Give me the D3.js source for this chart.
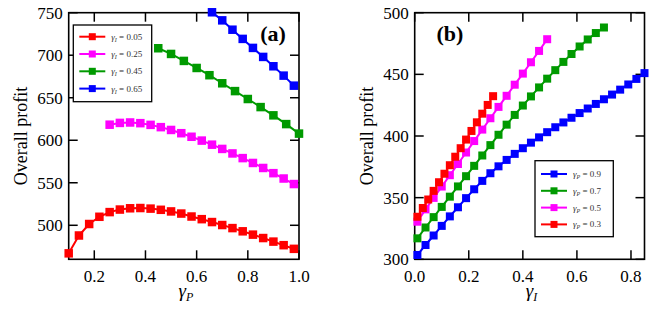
<!DOCTYPE html>
<html>
<head>
<meta charset="utf-8">
<script src="https://cdn.jsdelivr.net/npm/d3@7"></script>
<style>
  body { margin: 0; background: #fff; }
  svg { display: block; }
</style>
</head>
<body>
<div id="chart"></div>
<script>
// ---- panel (a): overall profit vs gamma_P ----
const aRedX = [0.10, 0.14, 0.18, 0.22, 0.26, 0.30, 0.34, 0.38, 0.42, 0.46, 0.50, 0.54, 0.58, 0.62, 0.66, 0.70, 0.74, 0.78, 0.82, 0.86, 0.90, 0.94, 0.98];
const aRedY = [467, 488, 501.5, 510, 515.5, 518.5, 520, 520.3, 519.6, 518.2, 516.3, 513.8, 510.3, 507.2, 503.8, 500.3, 496.7, 492.9, 489, 485, 480.8, 476.6, 472.3];
const aMagX = [0.26, 0.30, 0.34, 0.38, 0.42, 0.46, 0.50, 0.54, 0.58, 0.62, 0.66, 0.70, 0.74, 0.78, 0.82, 0.86, 0.90, 0.94, 0.98];
const aMagY = [618.3, 620.4, 620.9, 620.1, 618.1, 615.4, 612.1, 608.3, 604.1, 599.6, 594.8, 589.8, 584.5, 579.0, 573.3, 567.4, 561.3, 555.0, 548.5];
const aGreenX = [0.45, 0.50, 0.55, 0.60, 0.65, 0.70, 0.75, 0.80, 0.85, 0.90, 0.95, 1.00];
const aGreenY = [708.2, 701.5, 693.3, 685, 676.5, 667, 657.8, 648.5, 639, 629.3, 619, 607.8];
const aBlueX = [0.66, 0.70, 0.74, 0.78, 0.82, 0.86, 0.90, 0.94, 0.98];
const aBlueY = [750.5, 741, 730, 719.2, 708.6, 698, 687, 676, 664.2];
const aXTicks = [0.2, 0.4, 0.6, 0.8, 1.0];
const aYTicks = [500, 550, 600, 650, 700, 750];
const aLegend = ["0.05", "0.25", "0.45", "0.65"];

// ---- panel (b): overall profit vs gamma_I ----
const bBlueX = [0.01, 0.04, 0.07, 0.10, 0.13, 0.16, 0.19, 0.22, 0.25, 0.28, 0.31, 0.34, 0.37, 0.40, 0.43, 0.46, 0.49, 0.52, 0.55, 0.58, 0.61, 0.64, 0.67, 0.70, 0.73, 0.76, 0.79, 0.82, 0.85];
const bBlueY = [303.5, 311.6, 319.3, 327.1, 334.8, 342.2, 349.6, 356.8, 363.6, 369.8, 375.4, 380.6, 385.5, 390.1, 394.6, 398.9, 403.1, 407.1, 411, 414.8, 418.6, 422.3, 426, 429.8, 433.6, 437.6, 441.8, 446.3, 451];
const bGreenX = [0.01, 0.04, 0.07, 0.10, 0.13, 0.16, 0.19, 0.22, 0.25, 0.28, 0.31, 0.34, 0.37, 0.40, 0.43, 0.46, 0.49, 0.52, 0.55, 0.58, 0.61, 0.64, 0.67, 0.70];
const bGreenY = [317, 325.8, 334.2, 342.5, 350.8, 359.1, 367.4, 375.8, 384.2, 392.6, 401, 409.2, 417.1, 424.7, 432.1, 439.4, 446.5, 453.4, 460.1, 466.5, 472.6, 478.3, 483.5, 488];
const bMagX = [0.01, 0.04, 0.07, 0.10, 0.13, 0.16, 0.19, 0.22, 0.25, 0.28, 0.31, 0.34, 0.37, 0.40, 0.43, 0.46, 0.49];
const bMagY = [330.5, 340.5, 349.8, 359, 368.2, 377.3, 386.6, 395.9, 405.2, 414.4, 423.6, 432.6, 441.6, 450.6, 459.8, 469, 478.5];
const bRedX = [0.01, 0.03, 0.05, 0.07, 0.09, 0.11, 0.13, 0.15, 0.17, 0.19, 0.21, 0.23, 0.25, 0.27, 0.29];
const bRedY = [334.5, 341.6, 348.5, 355.5, 362.5, 369.4, 376.3, 383.2, 390.1, 397.1, 404.1, 411.1, 418.1, 425.2, 432.3];
const bXTicks = [0.0, 0.2, 0.4, 0.6, 0.8];
const bYTicks = [300, 350, 400, 450, 500];
const bLegend = ["0.9", "0.7", "0.5", "0.3"];

const RED = "#ff0000", MAG = "#ff00ff", GREEN = "#009a00", BLUE = "#0000ff";
const SERIF = "'Liberation Serif', serif";

const svg = d3.select("#chart").append("svg")
  .attr("width", 664)
  .attr("height", 314);

function drawPanel(p) {
  const x = d3.scaleLinear().domain(p.xDomain).range([p.left, p.right]);
  const y = d3.scaleLinear().domain(p.yDomain).range([p.bottom, p.top]);
  const g = svg.append("g");
  const TICK = 9;

  // ticks inward on all four sides
  p.xTicks.forEach(t => {
    g.append("line").attr("x1", x(t)).attr("x2", x(t)).attr("y1", p.bottom).attr("y2", p.bottom - TICK)
      .attr("stroke", "#000").attr("stroke-width", 1.5);
    g.append("line").attr("x1", x(t)).attr("x2", x(t)).attr("y1", p.top).attr("y2", p.top + TICK)
      .attr("stroke", "#000").attr("stroke-width", 1.5);
    g.append("text").attr("x", x(t)).attr("y", p.bottom + 23)
      .attr("text-anchor", "middle")
      .style("font-family", SERIF).style("font-size", "17px")
      .text(d3.format(".1f")(t));
  });
  p.yTicks.forEach(t => {
    g.append("line").attr("x1", p.left).attr("x2", p.left + TICK).attr("y1", y(t)).attr("y2", y(t))
      .attr("stroke", "#000").attr("stroke-width", 1.5);
    g.append("line").attr("x1", p.right).attr("x2", p.right - TICK).attr("y1", y(t)).attr("y2", y(t))
      .attr("stroke", "#000").attr("stroke-width", 1.5);
    g.append("text").attr("x", p.left - 6).attr("y", y(t) + 6)
      .attr("text-anchor", "end")
      .style("font-family", SERIF).style("font-size", "17px")
      .text(t);
  });

  // frame
  g.append("rect")
    .attr("x", p.left).attr("y", p.top)
    .attr("width", p.right - p.left).attr("height", p.bottom - p.top)
    .attr("fill", "none").attr("stroke", "#000").attr("stroke-width", 1.6);

  // series
  const line = d3.line().x(d => x(d[0])).y(d => y(d[1]));
  p.series.forEach(s => {
    const pts = s.xs.map((v, i) => [v, s.ys[i]]);
    g.append("path").datum(pts)
      .attr("d", line).attr("fill", "none")
      .attr("stroke", s.color).attr("stroke-width", 2);
    g.selectAll(null).data(pts).enter().append("rect")
      .attr("x", d => x(d[0]) - p.marker / 2)
      .attr("y", d => y(d[1]) - p.marker / 2)
      .attr("width", p.marker).attr("height", p.marker)
      .attr("fill", s.color);
  });

  // axis titles
  g.append("text")
    .attr("transform", `translate(${p.left - 42},${(p.top + p.bottom) / 2}) rotate(-90)`)
    .attr("text-anchor", "middle")
    .style("font-family", SERIF).style("font-size", "18px")
    .text("Overall profit");

  const xl = g.append("text")
    .attr("x", (p.left + p.right) / 2 + 2).attr("y", p.bottom + 38)
    .attr("text-anchor", "middle")
    .style("font-family", SERIF).style("font-size", "19px").style("font-style", "italic");
  xl.append("tspan").text("γ");
  xl.append("tspan").attr("dy", 4).style("font-size", "12px").text(p.xSub);

  // panel tag
  g.append("text")
    .attr("x", p.tagX).attr("y", 41)
    .attr("text-anchor", "middle")
    .style("font-family", SERIF).style("font-size", "22px").style("font-weight", "bold")
    .text(p.tag);

  // legend
  const L = p.legend;
  g.append("rect")
    .attr("x", L.x).attr("y", L.y).attr("width", L.w).attr("height", L.h)
    .attr("fill", "#fff").attr("stroke", "#000").attr("stroke-width", 1.3);
  L.items.forEach((it, i) => {
    const cy = L.y + L.first + i * L.step;
    g.append("line")
      .attr("x1", L.x + 6).attr("x2", L.x + 32).attr("y1", cy).attr("y2", cy)
      .attr("stroke", it.color).attr("stroke-width", 2);
    g.append("rect")
      .attr("x", L.x + 19 - 3.5).attr("y", cy - 3.5).attr("width", 7).attr("height", 7)
      .attr("fill", it.color);
    const t = g.append("text")
      .attr("x", L.x + 38).attr("y", cy + 3)
      .style("font-family", SERIF).style("font-size", "9px").attr("fill", "#333");
    t.append("tspan").style("font-style", "italic").text("γ");
    t.append("tspan").attr("dy", 2).style("font-size", "6px").style("font-style", "italic").text(L.sub);
    t.append("tspan").attr("dy", -2).text(" = " + it.label);
  });
}

drawPanel({
  left: 68.7, right: 299, top: 12.7, bottom: 259.3,
  xDomain: [0.1, 1.0], yDomain: [460, 750],
  xTicks: aXTicks, yTicks: aYTicks,
  xSub: "P", tag: "(a)", tagX: 273, marker: 8.5,
  series: [
    { xs: aRedX, ys: aRedY, color: RED },
    { xs: aMagX, ys: aMagY, color: MAG },
    { xs: aGreenX, ys: aGreenY, color: GREEN },
    { xs: aBlueX, ys: aBlueY, color: BLUE }
  ],
  legend: {
    x: 73.3, y: 25, w: 78.4, h: 76.7, first: 11.7, step: 17.3, sub: "I",
    items: [
      { label: aLegend[0], color: RED },
      { label: aLegend[1], color: MAG },
      { label: aLegend[2], color: GREEN },
      { label: aLegend[3], color: BLUE }
    ]
  }
});

drawPanel({
  left: 414.7, right: 644.5, top: 12.7, bottom: 259.3,
  xDomain: [0, 0.85], yDomain: [300, 500],
  xTicks: bXTicks, yTicks: bYTicks,
  xSub: "I", tag: "(b)", tagX: 450, marker: 8,
  series: [
    { xs: bBlueX, ys: bBlueY, color: BLUE },
    { xs: bGreenX, ys: bGreenY, color: GREEN },
    { xs: bMagX, ys: bMagY, color: MAG },
    { xs: bRedX, ys: bRedY, color: RED }
  ],
  legend: {
    x: 535, y: 160.7, w: 78.3, h: 76, first: 13.3, step: 16.8, sub: "P",
    items: [
      { label: bLegend[0], color: BLUE },
      { label: bLegend[1], color: GREEN },
      { label: bLegend[2], color: MAG },
      { label: bLegend[3], color: RED }
    ]
  }
});
</script>
</body>
</html>
